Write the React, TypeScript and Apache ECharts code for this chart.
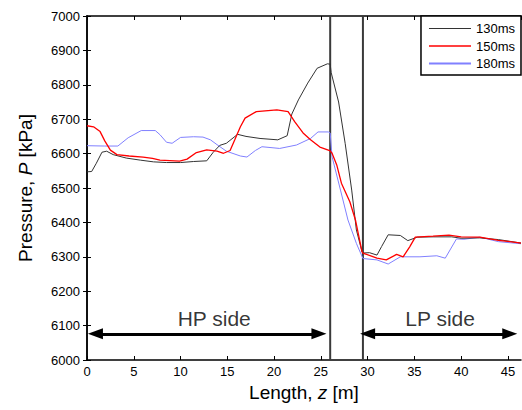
import React, { useEffect, useRef } from "react";
import * as echarts from "echarts";

// Curves: [length z (m), pressure P (kPa)]
const curve130: [number, number][] = [
  [0, 6547], [0.5, 6548], [1.0, 6572], [1.6, 6604], [2.1, 6607], [2.8, 6597], [4.2, 6587], [5.7, 6581],
  [7.1, 6576], [8.5, 6574], [10, 6574], [11.4, 6577], [12.8, 6579], [13.5, 6604], [14.2, 6624], [14.9, 6630],
  [16.1, 6656], [17, 6650], [18.5, 6644], [20.4, 6640], [21.4, 6652], [21.9, 6715], [22.6, 6756], [23.6, 6805],
  [24.6, 6848], [25.7, 6861], [26.0, 6860], [26.1, 6836], [26.9, 6750], [27.6, 6630], [28.3, 6494], [28.8, 6378],
  [29.4, 6315], [29.5, 6311], [30.2, 6312], [31.0, 6305], [31.5, 6330], [32.2, 6364], [33.5, 6362], [34.3, 6347],
  [35.3, 6357], [37, 6358], [39, 6358], [40, 6354], [42, 6355], [44, 6350], [46.4, 6340],
];
const curve150: [number, number][] = [
  [0, 6681], [0.7, 6678], [1.4, 6664], [1.9, 6637], [2.5, 6610], [3.2, 6597], [4.5, 6593], [6, 6590],
  [7, 6586], [7.8, 6581], [9.9, 6578], [10.7, 6584], [11.7, 6603], [12.8, 6611], [13.9, 6607], [14.6, 6601],
  [15.3, 6609], [15.8, 6640], [16.4, 6678], [16.9, 6703], [18.1, 6722], [20.3, 6727], [21.5, 6722], [22.2, 6693],
  [23.1, 6660], [23.9, 6640], [24.9, 6619], [25.8, 6610], [26.0, 6608], [26.2, 6601], [26.7, 6567], [27.2, 6514],
  [28.1, 6460], [28.7, 6407], [29.4, 6315], [29.5, 6311], [31, 6296], [32, 6291], [33.1, 6307], [33.8, 6300],
  [34.5, 6329], [35.1, 6357], [37, 6360], [38.7, 6363], [40, 6358], [42, 6357], [44, 6348], [46.4, 6340],
];
const curve180: [number, number][] = [
  [0, 6623], [1.9, 6622], [3.3, 6622], [4.4, 6646], [5.8, 6667], [7.3, 6667], [7.8, 6655], [8.5, 6633],
  [9.1, 6630], [10.0, 6647], [11.4, 6649], [12.4, 6648], [13.2, 6640], [13.9, 6626], [14.9, 6607], [16.4, 6593],
  [17.1, 6590], [18.0, 6609], [18.7, 6620], [20.6, 6615], [22.4, 6625], [23.9, 6644], [24.7, 6663], [25.8, 6663],
  [26.0, 6660], [26.2, 6591], [27.1, 6494], [27.9, 6407], [28.8, 6339], [29.5, 6295], [31.0, 6291], [32.2, 6279],
  [33.5, 6300], [35.6, 6300], [37.4, 6303], [38.3, 6296], [39.5, 6352], [40.3, 6351], [42, 6357], [44, 6344],
  [46.4, 6338],
];

const seriesNames = ["130ms", "150ms", "180ms"];
const boundaryZ = [26, 29.5];
// Double arrows: [zStart, zEnd, P]
const arrowSpans: [number, number, number][] = [
  [0.9, 24.8, 6076],
  [30.0, 45.2, 6076],
];
// Annotation labels: [z, P, text]
const annotations: [number, number, string][] = [
  [13.6, 6122, "HP side"],
  [37.75, 6122, "LP side"],
];

const X_MIN = 0;
const X_MAX = 46.4;
const Y_MIN = 6000;
const Y_MAX = 7000;

const FONT = "'Liberation Sans', Arial, sans-serif";

const lineIcon = (h: number) => `path://M0,0H42V${h}H0Z`;

export default function App() {
  const ref = useRef<HTMLDivElement>(null);
  useEffect(() => {
    if (!ref.current) return;
    const chart = echarts.init(ref.current, undefined, { renderer: "svg" });
    const tickCommon = { inside: true, length: 4, lineStyle: { color: "#000", width: 1 } };
    const axisLineCommon = { show: true, lineStyle: { color: "#000", width: 1.5 } };
    chart.setOption({
      animation: false,
      backgroundColor: "#fff",
      grid: { left: 87, right: 1, top: 16, bottom: 50, containLabel: false },
      legend: {
        data: [
          { name: seriesNames[0], icon: lineIcon(1) },
          { name: seriesNames[1], icon: lineIcon(1.3) },
          { name: seriesNames[2], icon: lineIcon(1.8) },
        ],
        orient: "vertical",
        right: 1,
        top: 16,
        itemWidth: 42,
        itemHeight: 13,
        itemGap: 4.5,
        symbolKeepAspect: true,
        padding: [6, 6, 5, 8],
        borderColor: "#000",
        borderWidth: 1.5,
        borderRadius: 0,
        backgroundColor: "#fff",
        textStyle: { fontSize: 13, fontFamily: FONT, color: "#000" },
      },
      xAxis: [
        {
          type: "value",
          min: X_MIN,
          max: X_MAX,
          interval: 5,
          name: "Length, {i|z} [m]",
          nameLocation: "middle",
          nameGap: 23,
          nameTextStyle: {
            fontSize: 19,
            fontFamily: FONT,
            color: "#000",
            rich: { i: { fontStyle: "italic", fontSize: 19, fontFamily: FONT, color: "#000" } },
          },
          axisLine: axisLineCommon,
          axisTick: tickCommon,
          axisLabel: {
            fontSize: 13,
            fontFamily: FONT,
            color: "#000",
            margin: 5,
            showMaxLabel: false,
            formatter: (v: number) => String(v),
          },
          splitLine: { show: false },
        },
        {
          type: "value",
          position: "top",
          min: X_MIN,
          max: X_MAX,
          interval: 5,
          axisLine: axisLineCommon,
          axisTick: tickCommon,
          axisLabel: { show: false },
          splitLine: { show: false },
        },
      ],
      yAxis: [
        {
          type: "value",
          min: Y_MIN,
          max: Y_MAX,
          interval: 100,
          name: "Pressure, {i|P} [kPa]",
          nameLocation: "middle",
          nameGap: 52,
          nameTextStyle: {
            fontSize: 19,
            fontFamily: FONT,
            color: "#000",
            rich: { i: { fontStyle: "italic", fontSize: 19, fontFamily: FONT, color: "#000" } },
          },
          axisLine: axisLineCommon,
          axisTick: tickCommon,
          axisLabel: {
            fontSize: 13,
            fontFamily: FONT,
            color: "#000",
            margin: 7,
            formatter: (v: number) => String(v),
          },
          splitLine: { show: false },
        },
        {
          type: "value",
          position: "right",
          min: Y_MIN,
          max: Y_MAX,
          interval: 100,
          axisLine: axisLineCommon,
          axisTick: tickCommon,
          axisLabel: { show: false },
          splitLine: { show: false },
        },
      ],
      series: [
        ...boundaryZ.map((z, i) => ({
          name: "boundary" + i,
          type: "line",
          data: [
            [z, Y_MIN],
            [z, Y_MAX],
          ],
          symbol: "none",
          silent: true,
          lineStyle: { color: "#3a3a3a", width: 2 },
          z: 1,
        })),
        {
          name: seriesNames[0],
          type: "line",
          data: curve130,
          symbol: "none",
          lineStyle: { color: "#333333", width: 1 },
          itemStyle: { color: "#333333" },
          z: 3,
        },
        {
          name: seriesNames[1],
          type: "line",
          data: curve150,
          symbol: "none",
          lineStyle: { color: "#ff0000", width: 1.3 },
          itemStyle: { color: "#ff0000" },
          z: 4,
        },
        {
          name: seriesNames[2],
          type: "line",
          data: curve180,
          symbol: "none",
          lineStyle: { color: "#8080ff", width: 1 },
          itemStyle: { color: "#8080ff" },
          z: 2,
        },
        {
          name: "arrows",
          type: "line",
          data: [],
          silent: true,
          markLine: {
            silent: true,
            symbol: ["triangle", "triangle"],
            symbolSize: [11, 15],
            label: { show: false },
            lineStyle: { color: "#000", width: 3, type: "solid" },
            data: arrowSpans.map(([a, b, p]) => [
              { coord: [a, p], symbol: "triangle" },
              { coord: [b, p], symbol: "triangle" },
            ]),
          },
        },
        {
          name: "annotations",
          type: "scatter",
          data: annotations.map(([z, p, t]) => ({ value: [z, p], name: t })),
          symbolSize: 0,
          silent: true,
          label: {
            show: true,
            position: "inside",
            formatter: (d: any) => d.name,
            fontSize: 21,
            fontFamily: FONT,
            color: "#000",
          },
        },
      ],
    });
    return () => chart.dispose();
  }, []);
  return (
    <div
      ref={ref}
      style={{ position: "absolute", left: 0, top: 0, width: 522, height: 410 }}
    />
  );
}
